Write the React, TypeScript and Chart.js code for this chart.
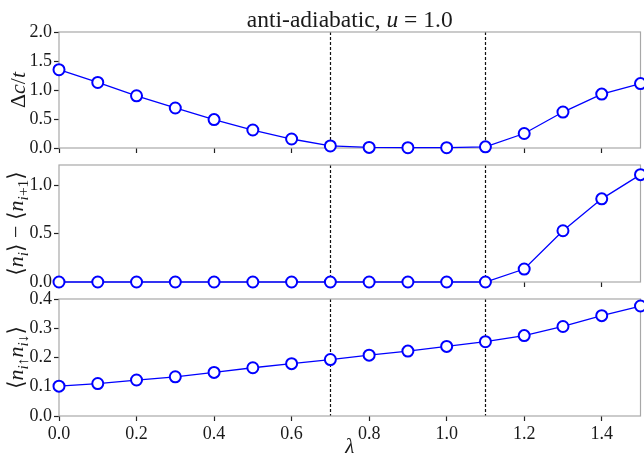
import React, { useEffect, useRef } from "react";
import { Chart, registerables } from "chart.js";
Chart.register(...registerables);

const lambdas = [0, 0.1, 0.2, 0.3, 0.4, 0.5, 0.6, 0.7, 0.8, 0.9, 1.0, 1.1, 1.2, 1.3, 1.4, 1.5];
const gapValues = [1.35, 1.13, 0.9, 0.69, 0.49, 0.31, 0.155, 0.035, 0.01, 0.005, 0.005, 0.02, 0.25, 0.62, 0.93, 1.11];
const cdwValues = [0, 0, 0, 0, 0, 0, 0, 0, 0, 0, 0, 0, 0.134, 0.53, 0.86, 1.11];
const doubleOccValues = [0.102, 0.111, 0.123, 0.134, 0.149, 0.165, 0.179, 0.193, 0.208, 0.222, 0.238, 0.254, 0.275, 0.306, 0.343, 0.376];
const transitionPoints = [0.7, 1.1];
const xTickValues = [0, 0.2, 0.4, 0.6, 0.8, 1.0, 1.2, 1.4];
const gapTicks = [0, 0.5, 1.0, 1.5, 2.0];
const cdwTicks = [0, 0.5, 1.0];
const doubleOccTicks = [0, 0.1, 0.2, 0.3, 0.4];

type Seg = { t: string; it?: boolean; sub?: boolean };

const titleSegs: Seg[] = [{ t: "anti-adiabatic, " }, { t: "u", it: true }, { t: " = 1.0" }];
const gapLabel: Seg[] = [{ t: "Δ" }, { t: "c", it: true }, { t: "/" }, { t: "t", it: true }];
const cdwLabel: Seg[] = [
  { t: "⟨" }, { t: "n", it: true }, { t: "i", it: true, sub: true }, { t: "⟩ − ⟨" },
  { t: "n", it: true }, { t: "i", it: true, sub: true }, { t: "+1", sub: true }, { t: "⟩" },
];
const doubleOccLabel: Seg[] = [
  { t: "⟨" }, { t: "n", it: true }, { t: "i", it: true, sub: true }, { t: "↑", sub: true },
  { t: "n", it: true }, { t: "i", it: true, sub: true }, { t: "↓", sub: true }, { t: "⟩" },
];
const xLabel: Seg[] = [{ t: "λ", it: true }];

const FONT = '"Liberation Serif", "DejaVu Serif", serif';
const TEXT = "#1a1a1a";
const CANVAS_W = 648;

function segFont(s: Seg, size: number) {
  const sz = s.sub ? size * 0.7 : size;
  return `${s.it ? "italic " : ""}${sz}px ${FONT}`;
}

function drawRich(ctx: CanvasRenderingContext2D, segs: Seg[], cx: number, base: number, size: number, rotate: boolean, centerY?: number) {
  ctx.save();
  const widths = segs.map((s) => {
    ctx.font = segFont(s, size);
    return ctx.measureText(s.t).width;
  });
  const total = widths.reduce((a, b) => a + b, 0);
  ctx.fillStyle = TEXT;
  ctx.textBaseline = "alphabetic";
  ctx.textAlign = "left";
  if (rotate) {
    ctx.translate(base, centerY as number);
    ctx.rotate(-Math.PI / 2);
    let x = -total / 2;
    segs.forEach((s, i) => {
      ctx.font = segFont(s, size);
      ctx.fillText(s.t, x, s.sub ? size * 0.22 : 0);
      x += widths[i];
    });
  } else {
    let x = cx - total / 2;
    segs.forEach((s, i) => {
      ctx.font = segFont(s, size);
      ctx.fillText(s.t, x, base + (s.sub ? size * 0.22 : 0));
      x += widths[i];
    });
  }
  ctx.restore();
}

type PanelSpec = {
  values: number[];
  yMin: number;
  yMax: number;
  yTicks: number[];
  xLabels: boolean;
  height: number;
  padTop: number;
  xAxisHeight: number;
  ylabel: Seg[];
  ylabelX: number;
  ylabelSize: number;
  title?: boolean;
  xlabel?: boolean;
};

const panels: PanelSpec[] = [
  { values: gapValues, yMin: 0, yMax: 2, yTicks: gapTicks, xLabels: false, height: 157, padTop: 32, xAxisHeight: 9, ylabel: gapLabel, ylabelX: 25, ylabelSize: 22, title: true },
  { values: cdwValues, yMin: 0, yMax: 1.21, yTicks: cdwTicks, xLabels: false, height: 134, padTop: 8, xAxisHeight: 9, ylabel: cdwLabel, ylabelX: 23, ylabelSize: 22 },
  { values: doubleOccValues, yMin: 0, yMax: 0.4, yTicks: doubleOccTicks, xLabels: true, height: 164, padTop: 8, xAxisHeight: 39, ylabel: doubleOccLabel, ylabelX: 23, ylabelSize: 22, xlabel: true },
];

function Panel({ spec }: { spec: PanelSpec }) {
  const ref = useRef<HTMLCanvasElement>(null);
  useEffect(() => {
    if (!ref.current) return;
    const decor = {
      id: "decor",
      beforeDatasetsDraw(chart: any) {
        const { ctx, chartArea } = chart;
        const xs = chart.scales.x;
        ctx.save();
        ctx.strokeStyle = "#111";
        ctx.lineWidth = 1.2;
        ctx.setLineDash([3, 2]);
        transitionPoints.forEach((v) => {
          const px = Math.round(xs.getPixelForValue(v)) + 0.5;
          ctx.beginPath();
          ctx.moveTo(px, chartArea.top);
          ctx.lineTo(px, chartArea.bottom);
          ctx.stroke();
        });
        ctx.restore();
        ctx.save();
        ctx.strokeStyle = "#a8a8a8";
        ctx.lineWidth = 1.2;
        ctx.strokeRect(chartArea.left, chartArea.top, chartArea.right - chartArea.left, chartArea.bottom - chartArea.top);
        ctx.restore();
      },
      afterDraw(chart: any) {
        const { ctx, chartArea } = chart;
        const cy = (chartArea.top + chartArea.bottom) / 2;
        drawRich(ctx, spec.ylabel, 0, spec.ylabelX, spec.ylabelSize, true, cy);
        if (spec.title) {
          drawRich(ctx, titleSegs, (chartArea.left + chartArea.right) / 2, 27, 23.5, false);
        }
        if (spec.xlabel) {
          drawRich(ctx, xLabel, (chartArea.left + chartArea.right) / 2, chart.height - 2, 21, false);
        }
      },
    };
    const zeroPad = (s: any) => {
      s.paddingTop = 0;
      s.paddingBottom = 0;
      s.paddingLeft = 0;
      s.paddingRight = 0;
    };
    const chart = new Chart(ref.current, {
      type: "line",
      data: {
        datasets: [
          {
            data: lambdas.map((x, i) => ({ x, y: spec.values[i] })),
            borderColor: "#0000ff",
            borderWidth: 1.3,
            pointRadius: 5.5,
            pointBorderWidth: 2,
            pointBackgroundColor: "#ffffff",
            pointBorderColor: "#0000ff",
            tension: 0,
            clip: false as any,
          },
        ],
      },
      options: {
        animation: false,
        responsive: false,
        maintainAspectRatio: false,
        layout: { padding: { top: spec.padTop, right: 0, left: 0, bottom: 0 } },
        plugins: { legend: { display: false }, tooltip: { enabled: false }, title: { display: false } },
        scales: {
          x: {
            type: "linear",
            min: 0,
            max: 1.5,
            afterBuildTicks: (s: any) => {
              s.ticks = xTickValues.map((v) => ({ value: v }));
            },
            afterFit: (s: any) => {
              s.height = spec.xAxisHeight;
              zeroPad(s);
            },
            grid: { drawOnChartArea: false, drawTicks: true, tickLength: 5, tickColor: "#222", tickWidth: 1.2 },
            border: { display: false },
            ticks: {
              display: spec.xLabels,
              color: TEXT,
              font: { family: FONT, size: 18 },
              padding: 2,
              maxRotation: 0,
              autoSkip: false,
              callback: (v: any) => Number(v).toFixed(1),
            },
          },
          y: {
            type: "linear",
            min: spec.yMin,
            max: spec.yMax,
            afterBuildTicks: (s: any) => {
              s.ticks = spec.yTicks.map((v) => ({ value: v }));
            },
            afterFit: (s: any) => {
              s.width = 59;
              zeroPad(s);
            },
            grid: { drawOnChartArea: false, drawTicks: true, tickLength: 5, tickColor: "#222", tickWidth: 1.2 },
            border: { display: false },
            ticks: {
              color: TEXT,
              font: { family: FONT, size: 18 },
              padding: 2,
              autoSkip: false,
              callback: (v: any) => Number(v).toFixed(1),
            },
          },
        },
      },
      plugins: [decor],
    });
    return () => chart.destroy();
  }, [spec]);
  return <canvas ref={ref} width={CANVAS_W} height={spec.height} style={{ display: "block", width: CANVAS_W, height: spec.height }} />;
}

export default function App() {
  return (
    <div style={{ position: "absolute", left: 0, top: 0, width: 644, height: 455, overflow: "hidden", background: "#fff" }}>
      {panels.map((p, i) => (
        <Panel key={i} spec={p} />
      ))}
    </div>
  );
}
